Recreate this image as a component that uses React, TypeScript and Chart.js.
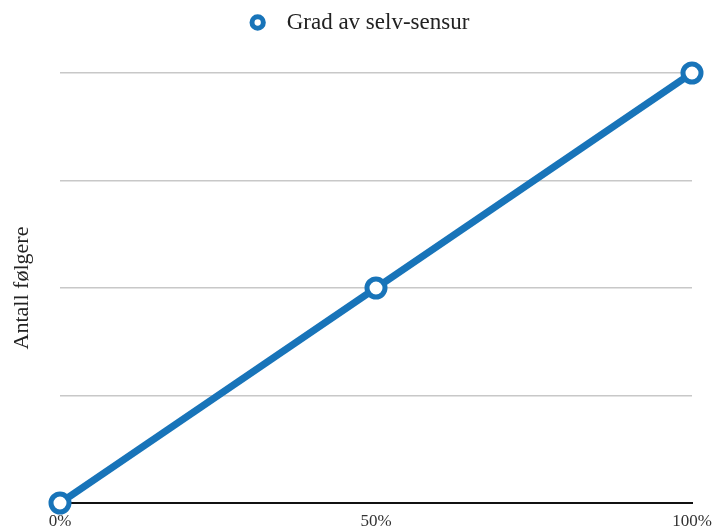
import React, { useEffect, useRef } from "react";
import { Chart, registerables } from "chart.js";

Chart.register(...registerables);

const categories = ["0%", "50%", "100%"];
const seriesLabel = "Grad av selv-sensur";
const seriesValues = [0, 2, 4];
const yTitle = "Antall følgere";

const BLUE = "#1874b9";
const SERIF = "'Liberation Serif', 'Times New Roman', serif";

const legendSpacing = {
  id: "legendSpacing",
  beforeInit(chart: any) {
    const l = chart.legend;
    if (!l) return;
    const f = l.fit;
    l.fit = function () {
      f.call(this);
      this.height += 29;
    };
  },
  afterLayout(chart: any) {
    const l = chart.legend;
    if (!l) return;
    l.left += 12;
    l.right += 12;
  },
};

export default function App() {
  const ref = useRef<HTMLCanvasElement | null>(null);
  useEffect(() => {
    if (!ref.current) return;
    const chart = new Chart(ref.current, {
      type: "line",
      data: {
        labels: categories,
        datasets: [
          {
            label: seriesLabel,
            data: seriesValues,
            borderColor: BLUE,
            backgroundColor: "#ffffff",
            borderWidth: 7,
            pointRadius: 9,
            pointBorderWidth: 5,
            pointBackgroundColor: "#ffffff",
            pointBorderColor: BLUE,
            tension: 0,
            clip: false as any,
          },
        ],
      },
      plugins: [legendSpacing],
      options: {
        animation: false,
        responsive: false,
        maintainAspectRatio: false,
        layout: { padding: { left: 5, right: 31, top: 4, bottom: 0 } },
        plugins: {
          tooltip: { enabled: false },
          legend: {
            display: true,
            position: "top",
            labels: {
              usePointStyle: true,
              pointStyle: "circle",
              boxWidth: 12,
              boxHeight: 8,
              padding: 7,
              color: "#222",
              font: { family: SERIF, size: 23 },
              generateLabels: () => [
                {
                  text: "\u2002" + seriesLabel,
                  fillStyle: "#ffffff",
                  strokeStyle: BLUE,
                  lineWidth: 5,
                  pointStyle: "circle",
                  hidden: false,
                  datasetIndex: 0,
                  fontColor: "#222",
                } as any,
              ],
            },
          },
        },
        scales: {
          x: {
            offset: false,
            afterFit: (s: any) => {
              s.height = 24;
            },
            grid: { display: false, drawTicks: false },
            border: { display: true, color: "#111", width: 2 },
            ticks: {
              color: "#333",
              padding: 8,
              font: { family: SERIF, size: 17 },
            },
          },
          y: {
            min: 0,
            max: 4,
            afterFit: (s: any) => {
              s.width = 55;
            },
            ticks: { display: false, stepSize: 1 },
            grid: { color: "#c8c8c8", lineWidth: 1.5, drawTicks: false },
            border: { display: false },
            title: {
              display: true,
              text: yTitle,
              color: "#222",
              font: { family: SERIF, size: 22 },
            },
          },
        },
      },
    });
    return () => chart.destroy();
  }, []);
  return (
    <div style={{ position: "fixed", left: 0, top: 0, width: 723, height: 527, background: "#fff" }}>
      <canvas ref={ref} width={723} height={527} style={{ width: 723, height: 527 }} />
    </div>
  );
}
